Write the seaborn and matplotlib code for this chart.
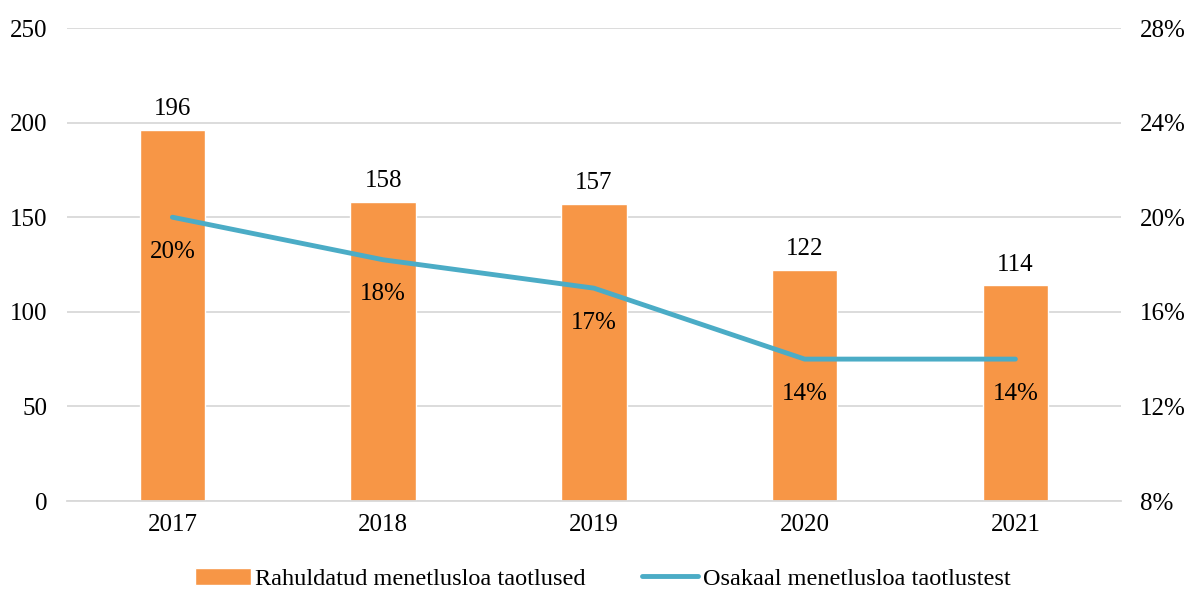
import seaborn as sns
import matplotlib.pyplot as plt
import pandas as pd

# andmed
years = ["2017", "2018", "2019", "2020", "2021"]
approved = [196, 158, 157, 122, 114]
share = [20.0, 18.2, 17.0, 14.0, 14.0]
share_labels = ["20%", "18%", "17%", "14%", "14%"]

bar_name = "Rahuldatud menetlusloa taotlused"
line_name = "Osakaal menetlusloa taotlustest"

sns.set_theme(style="white")
plt.rcParams['font.family'] = ['Liberation Serif', 'DejaVu Serif']
plt.rcParams['text.color'] = 'black'
fs = 18

df = pd.DataFrame({"year": years, "approved": approved, "share": share})

fig = plt.figure(figsize=(11.86, 5.92), dpi=100)
ax1 = fig.add_axes([0.0565, 0.1537, 0.8885, 0.799])
ax2 = ax1.twinx()

sns.barplot(data=df, x="year", y="approved", color="#F79646", width=0.31,
            saturation=1, ax=ax1, label=bar_name, zorder=2)
sns.lineplot(x=range(len(years)), y=df["share"], color="#4BACC6", linewidth=3.5,
             ax=ax2, label=line_name, zorder=3)

ax1.set_ylim(0, 250)
ax1.set_yticks(range(0, 251, 50))
ax2.set_ylim(8, 28)
ax2.set_yticks(range(8, 29, 4))
ax2.set_yticklabels([f"{v}%" for v in range(8, 29, 4)])
ax1.set_xlim(-0.5, 4.5)

ax1.yaxis.grid(True, color="#D9D9D9", linewidth=1.3, zorder=0)
ax1.set_axisbelow(True)
for a in (ax1, ax2):
    for s in a.spines.values():
        s.set_visible(False)
    a.tick_params(axis="both", length=0, labelsize=fs, colors="black")
ax1.spines["bottom"].set_visible(True)
ax1.spines["bottom"].set_color("#D9D9D9")
ax1.spines["bottom"].set_linewidth(1.3)
ax1.tick_params(axis="y", pad=14)
ax1.tick_params(axis="x", pad=9)
ax2.tick_params(axis="y", pad=14)
ax1.set_xlabel("")
ax1.set_ylabel("")
ax2.set_ylabel("")

# väärtused
for i, v in enumerate(approved):
    ax1.annotate(str(v), (i, v), xytext=(0, 7), textcoords="offset points",
                 ha="center", va="bottom", fontsize=fs, color="black")
for i, v in enumerate(share):
    ax2.annotate(share_labels[i], (i, v), xytext=(0, -25), textcoords="offset points",
                 ha="center", va="center", fontsize=fs, color="black")

h1, l1 = ax1.get_legend_handles_labels()
h2, l2 = ax2.get_legend_handles_labels()
if ax1.get_legend():
    ax1.get_legend().remove()
if ax2.get_legend():
    ax2.get_legend().remove()
fig.legend(h1 + h2, l1 + l2, loc="center", bbox_to_anchor=(0.508, 0.022),
           ncol=2, frameon=False, fontsize=17.5, columnspacing=2.3,
           handlelength=2.3, handletextpad=0.2, borderpad=0)

fig.savefig("out.png", dpi=100)
